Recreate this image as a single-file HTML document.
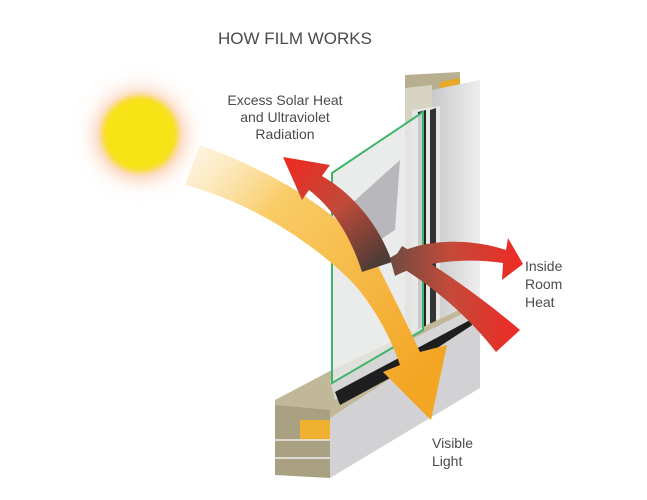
<!DOCTYPE html>
<html><head><meta charset="utf-8"><style>
html,body{margin:0;padding:0;background:#fff;}
svg{display:block;}
text{font-family:"Liberation Sans",sans-serif;fill:#4a4a4f;}
</style></head><body>
<svg width="647" height="500" viewBox="0 0 647 500" xmlns="http://www.w3.org/2000/svg">
<defs>
<filter id="blur" x="-50%" y="-50%" width="200%" height="200%"><feGaussianBlur stdDeviation="10"/></filter>
<filter id="blur2" x="-50%" y="-50%" width="200%" height="200%"><feGaussianBlur stdDeviation="3"/></filter>
<linearGradient id="beam" gradientUnits="userSpaceOnUse" x1="185" y1="160" x2="420" y2="380">
<stop offset="0" stop-color="#fbe3b0" stop-opacity="0.4"/>
<stop offset="0.3" stop-color="#f9cc66"/>
<stop offset="1" stop-color="#f3a524"/>
</linearGradient>
<linearGradient id="redg" x1="0" y1="0" x2="1" y2="0">
<stop offset="0" stop-color="#6e4a40"/><stop offset="0.45" stop-color="#c44a3a"/><stop offset="1" stop-color="#ee2a24"/>
</linearGradient>
<linearGradient id="redup" gradientUnits="userSpaceOnUse" x1="375" y1="265" x2="290" y2="160">
<stop offset="0" stop-color="#4e3c36"/><stop offset="0.5" stop-color="#c04a3a"/><stop offset="1" stop-color="#ec2b22"/>
</linearGradient>
<linearGradient id="frame" x1="0" y1="0" x2="1" y2="0">
<stop offset="0" stop-color="#c9c9cb"/><stop offset="1" stop-color="#eeeeef"/>
</linearGradient>
</defs>

<text x="295" y="44" font-size="17" text-anchor="middle">HOW FILM WORKS</text>
<text x="285" y="105" font-size="14" text-anchor="middle">Excess Solar Heat</text>
<text x="285" y="122" font-size="14" text-anchor="middle">and Ultraviolet</text>
<text x="285" y="139" font-size="14" text-anchor="middle">Radiation</text>
<text x="525" y="271" font-size="14">Inside</text>
<text x="525" y="289" font-size="14">Room</text>
<text x="525" y="307" font-size="14">Heat</text>
<text x="432" y="448" font-size="14">Visible</text>
<text x="432" y="466" font-size="14">Light</text>

<!-- sun -->
<circle cx="140" cy="135" r="44" fill="#f9c3a0" filter="url(#blur)"/>
<circle cx="140" cy="134" r="38" fill="#f8e318" filter="url(#blur2)"/>

<!-- right vertical frame -->
<polygon points="405,75 460,72 460,100 405,103" fill="#b8ae90"/>
<polygon points="440,82 460,78 460,95 440,98" fill="#e8a82a"/>
<polygon points="405,88 432,85 432,345 405,360" fill="#d8d4c4"/>
<polygon points="432,90 480,80 480,370 432,398" fill="url(#frame)"/>
<polygon points="412,110 440,106 440,340 412,352" fill="#e6e6e6"/>
<polygon points="418,112 426,110 426,340 418,345" fill="#222"/>
<polygon points="430,110 436,108 436,336 430,339" fill="#333"/>

<!-- bottom sill -->
<polygon points="275,400 332,370 480,300 480,320 330,420 275,430" fill="#c0b898"/>
<polygon points="330,380 480,305 480,325 335,400" fill="#d6d6d6"/>
<polygon points="335,392 470,320 475,332 340,405" fill="#1e1e1e"/>
<polygon points="275,405 330,410 330,478 275,475" fill="#a8a080"/>
<polygon points="300,420 330,420 330,440 300,440" fill="#f0b030"/>
<line x1="275" y1="440" x2="330" y2="440" stroke="#eee" stroke-width="1.5"/>
<line x1="275" y1="458" x2="330" y2="458" stroke="#eee" stroke-width="1.5"/>
<polygon points="330,418 480,320 480,388 330,478" fill="#d2d2d4"/>

<!-- glass -->
<polygon points="332,173 423,112 423,330 332,383" fill="#e6e8e8" fill-opacity="0.85"/>
<polygon points="350,205 400,160 395,230 372,245" fill="#b8b8bc"/>
<polygon points="332,173 423,112 423,330 332,383" fill="none" stroke="#3fb56a" stroke-width="2"/>

<!-- yellow beam -->
<path d="M200,145 C270,170 350,215 380,270 C395,300 410,330 420,352 L447,345 L431,420 L383,372 L400,365 C390,335 370,300 350,280 C320,250 260,205 185,185 Z" fill="url(#beam)"/>

<!-- red up arrow -->
<path d="M392,262 C378,222 350,192 322,176 L330,165 L283,157 L302,200 L309,190 C335,210 352,240 362,272 Z" fill="url(#redup)"/>
<!-- lower red arrow -->
<path d="M392,262 C430,283 470,318 496,352 L520,330 C485,300 440,268 402,246 Z" fill="url(#redg)"/>
<!-- inside room heat arrow -->
<path d="M395,276 C425,260 470,258 503,263 L502,280 L523,264 L508,238 L506,250 C470,238 420,238 390,258 Z" fill="url(#redg)"/>
</svg>
</body></html>
